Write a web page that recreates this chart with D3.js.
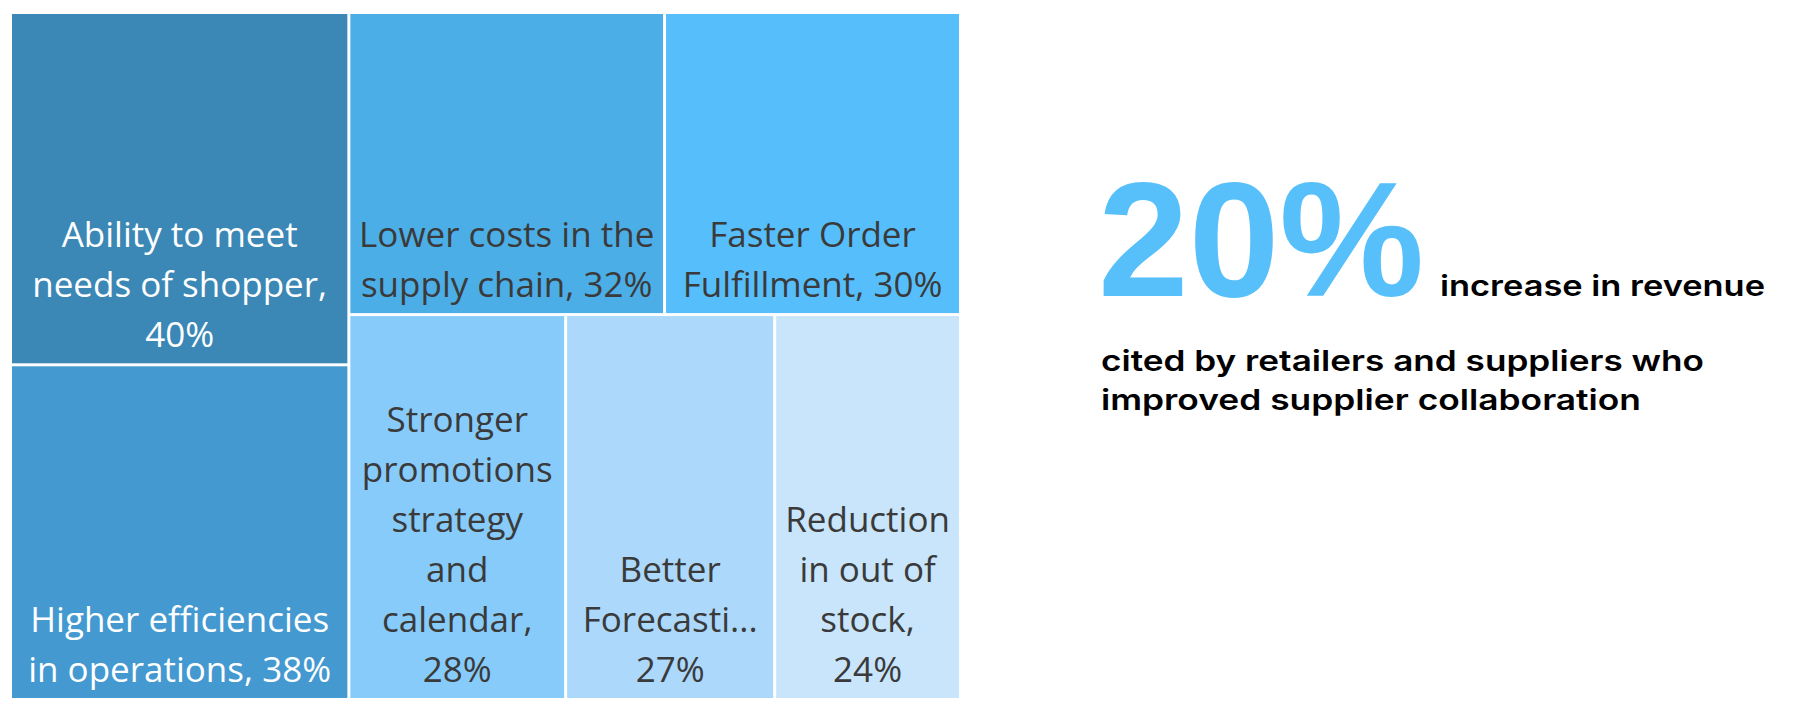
<!DOCTYPE html>
<html>
<head>
<meta charset="utf-8">
<script src="https://cdn.jsdelivr.net/npm/d3@7"></script>
<style>
  body { margin: 0; background: #fff; }
  svg { display: block; }
</style>
</head>
<body>
<div class="responsive-svg-container"></div>
<script>
/* Data */
const categories = [
    "Ability to meet needs of shopper",
    "Higher efficiencies in operations",
    "Lower costs in the supply chain",
    "Faster Order Fulfillment",
    "Stronger promotions strategy and calendar",
    "Better Forecasting",
    "Reduction in out of stock"
];
const values = [40, 38, 32, 30, 28, 27, 24];

// label lines as wrapped in the original (Better Forecasting gets cut)
const labelLines = [
    ["Ability to meet", "needs of shopper,", "40%"],
    ["Higher efficiencies", "in operations, 38%"],
    ["Lower costs in the", "supply chain, 32%"],
    ["Faster Order", "Fulfillment, 30%"],
    ["Stronger", "promotions", "strategy", "and", "calendar,", "28%"],
    ["Better", "Forecasti...", "27%"],
    ["Reduction", "in out of", "stock,", "24%"]
];

const tileColors = ["#3b87b5", "#4399d0", "#4caee7", "#56bffb", "#87cbfb", "#abd8fb", "#c8e5fb"];
const whiteText = ["Ability to meet needs of shopper", "Higher efficiencies in operations"];

const headline = "20%";
const headlineTail = "increase in revenue";
const subLines = ["cited by retailers and suppliers who", "improved supplier collaboration"];

const createTreemap = () => {
    const svg = d3.select(".responsive-svg-container")
        .append("svg")
            .attr("width", 1797)
            .attr("height", 713);

    const color = d3.scaleOrdinal()
        .domain(categories)
        .range(tileColors);

    const root = d3.hierarchy({
            children: categories.map((c, i) => ({ name: c, value: values[i], lines: labelLines[i] }))
        })
        .sum(d => d.value || 0)
        .sort((a, b) => b.value - a.value);

    d3.treemap()
        .tile(d3.treemapSquarify.ratio(1))
        .size([947, 684])
        .paddingInner(3)(root);

    const chart = svg.append("g")
        .attr("transform", "translate(12,14)");

    const cell = chart.selectAll("g")
        .data(root.leaves())
        .join("g")
            .attr("transform", d => `translate(${d.x0},${d.y0})`);

    cell.append("rect")
        .attr("width", d => d.x1 - d.x0)
        .attr("height", d => d.y1 - d.y0)
        .attr("fill", d => color(d.data.name));

    // labels sit at the bottom of each tile, centred
    cell.append("text")
        .attr("text-anchor", "middle")
        .attr("font-family", "'Segoe UI', 'Open Sans', sans-serif")
        .attr("font-size", 35)
        .attr("fill", d => whiteText.includes(d.data.name) ? "#ffffff" : "#3a3a3a")
        .selectAll("tspan")
        .data(d => d.data.lines.map((t, i, arr) => ({
            t, w: d.x1 - d.x0, y: (d.y1 - d.y0) - 16 - (arr.length - 1 - i) * 50
        })))
        .join("tspan")
            .attr("x", l => l.w / 2)
            .attr("y", l => l.y)
            .text(l => l.t);

    // callout text on the right
    const note = svg.append("g")
        .attr("font-family", "Inter, 'Noto Sans', sans-serif")
        .attr("font-weight", 600);

    // big number, natural width so it stays clear of the tail text
    note.append("text")
        .attr("x", 1098)
        .attr("y", 296)
        .attr("font-family", "'Liberation Sans', Arial, sans-serif")
        .attr("font-size", 163)
        .attr("font-weight", 700)
        .attr("fill", "#57c0fa")
        .text(headline);

    note.append("text")
        .attr("x", 1440)
        .attr("y", 296)
        .attr("font-size", 29)
        .attr("fill", "#000")
        .attr("textLength", 325)
        .attr("lengthAdjust", "spacingAndGlyphs")
        .text(headlineTail);

    note.selectAll(".sub")
        .data(subLines)
        .join("text")
            .attr("class", "sub")
            .attr("x", 1101)
            .attr("y", (d, i) => 371 + i * 39)
            .attr("font-size", 29)
            .attr("fill", "#000")
            .attr("textLength", (d, i) => i === 0 ? 603 : 540)
            .attr("lengthAdjust", "spacingAndGlyphs")
            .text(d => d);
};

createTreemap();
</script>
</body>
</html>
